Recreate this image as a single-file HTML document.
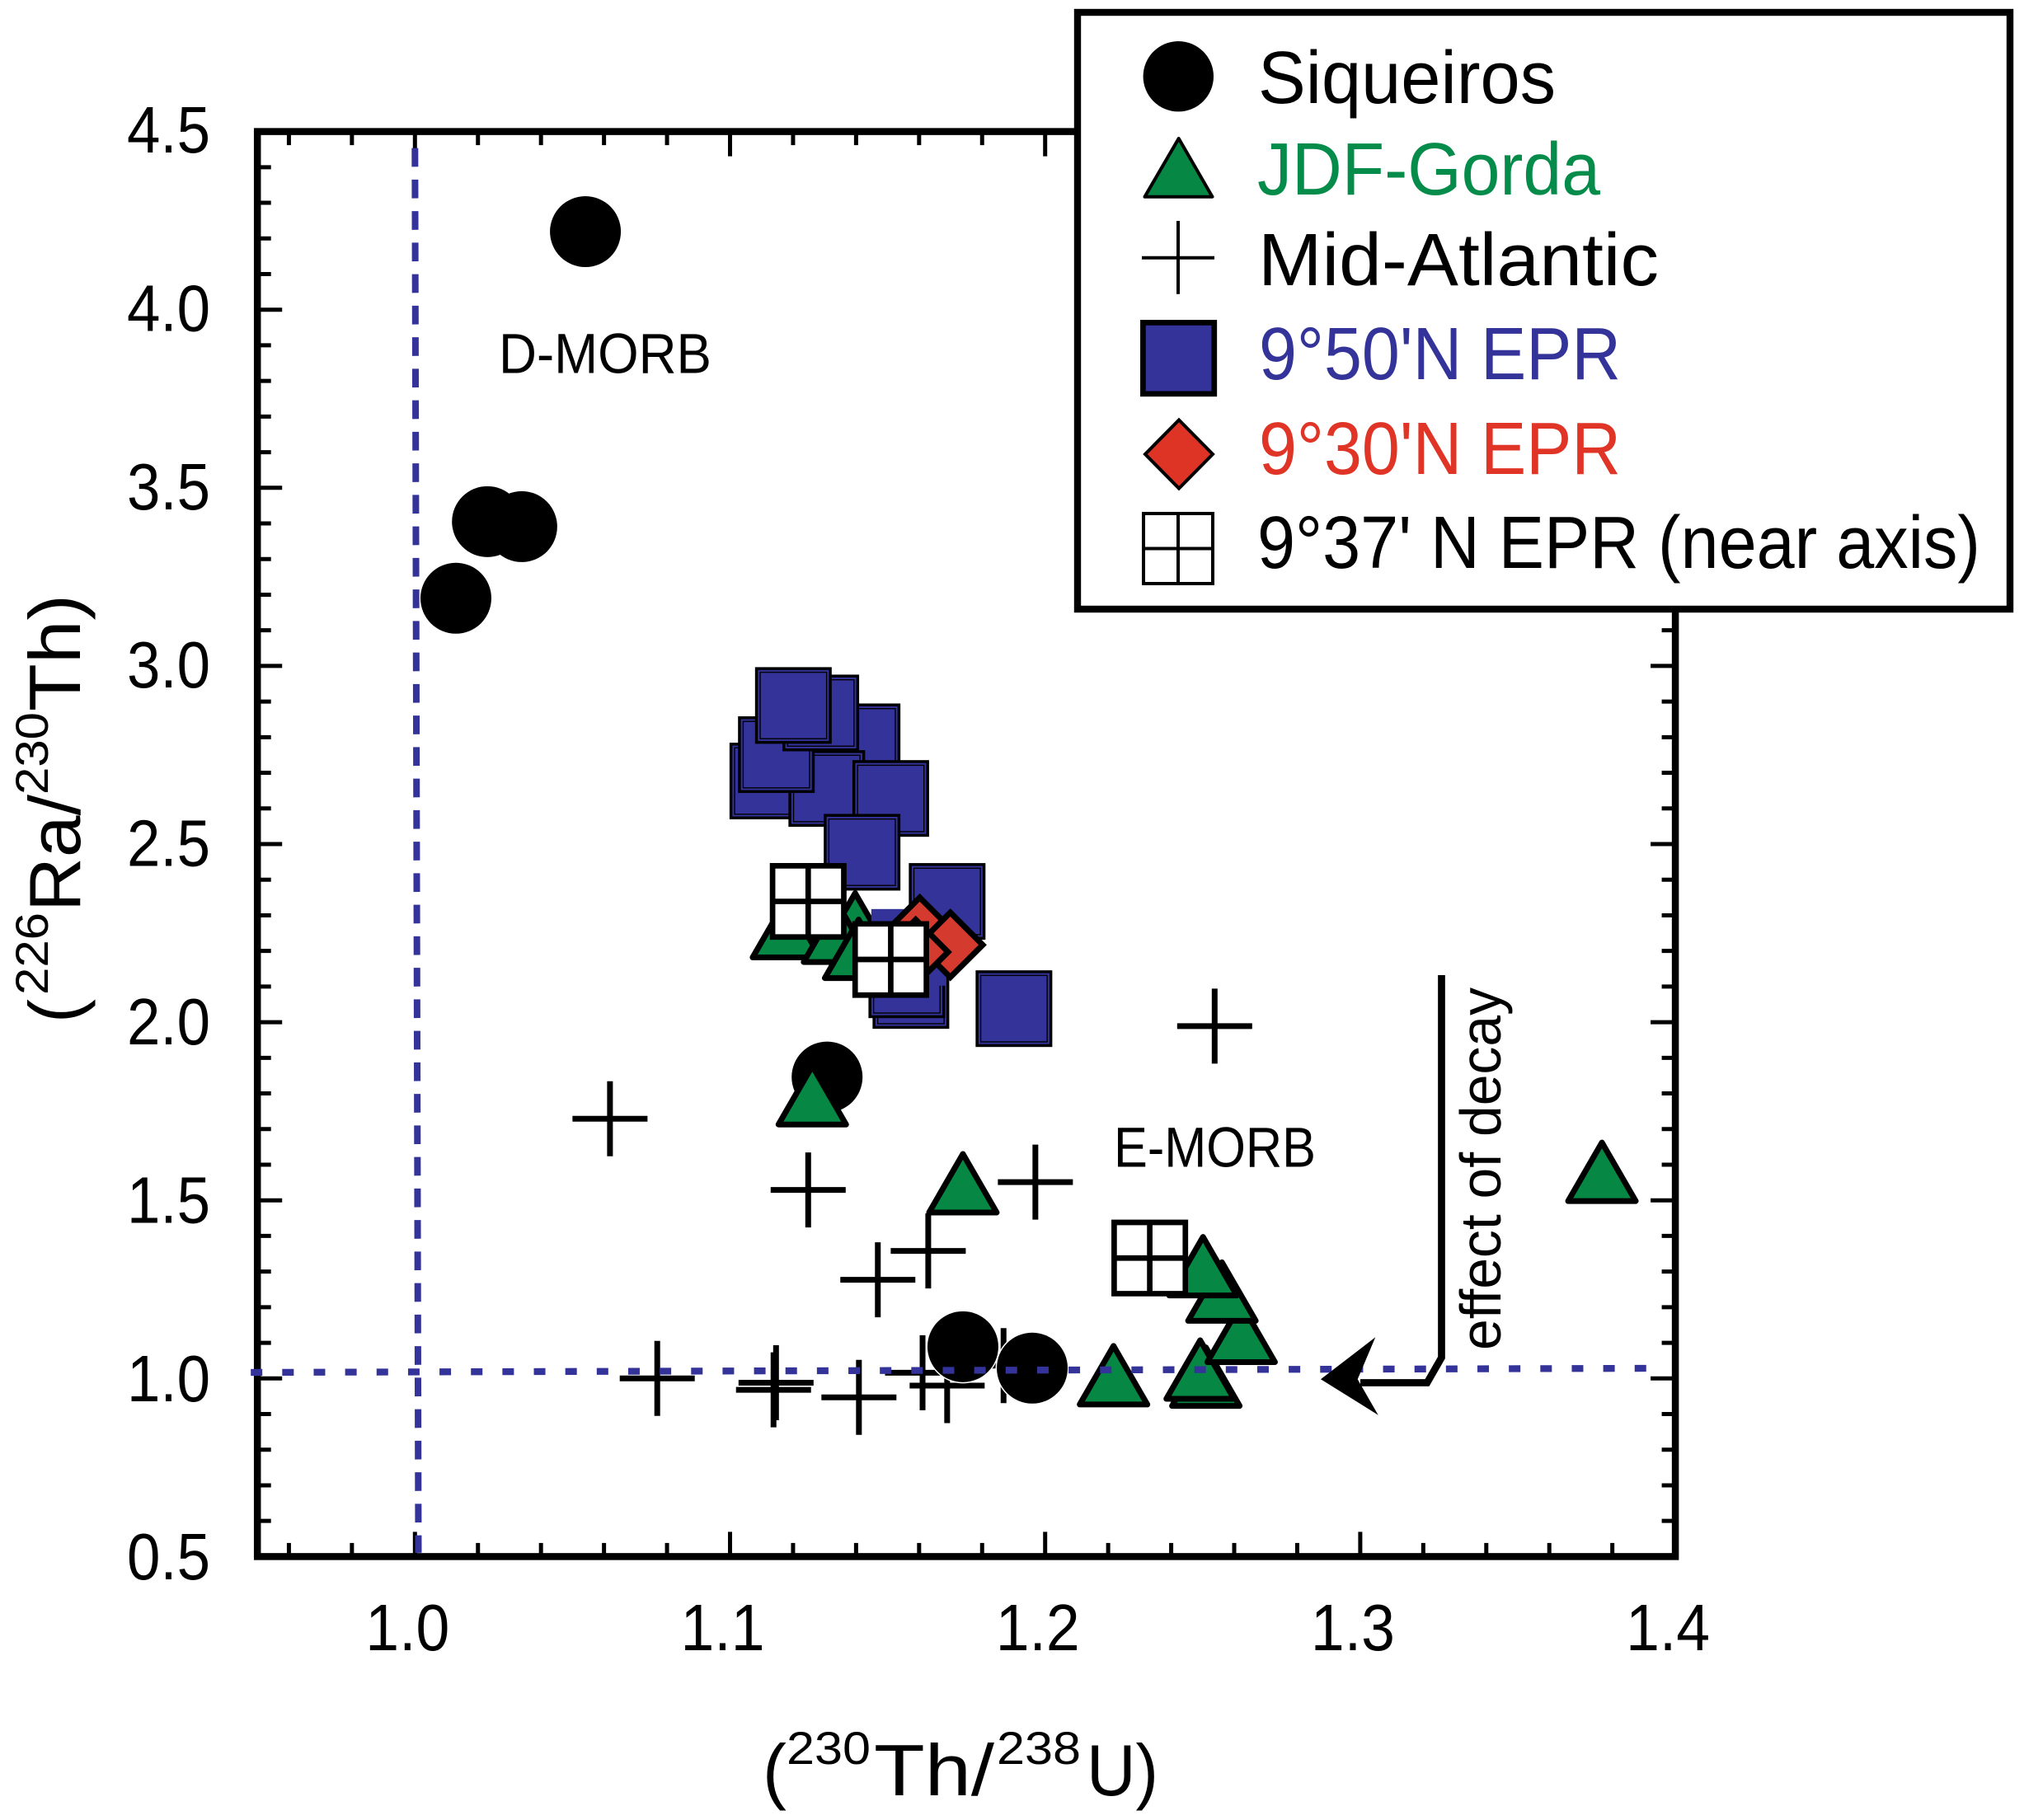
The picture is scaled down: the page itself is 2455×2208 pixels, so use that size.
<!DOCTYPE html>
<html lang="en">
<head>
<meta charset="utf-8">
<title>226Ra/230Th versus 230Th/238U</title>
<style>
html,body{margin:0;padding:0;background:#fff}
svg{display:block}
text{font-family:"Liberation Sans",sans-serif;fill:#000}
</style>
</head>
<body>
<svg id="chart" xmlns="http://www.w3.org/2000/svg" width="2455" height="2208" viewBox="0 0 2455 2208">
  <rect x="0" y="0" width="2455" height="2208" fill="#fff"/>
  <g id="axes"></g>
  <g id="marks"></g>

  <g>
    <path d="M1748.5 1183 L1748.5 1647 L1731 1677.5 L1650 1677.5" fill="none" stroke="#000" stroke-width="8.7"/>
    <path d="M1602 1673.3 L1668.3 1622.3 L1646.7 1673.3 L1671.7 1716.7 Z" fill="#000"/>
    <text transform="translate(1820 1638) rotate(-90)" font-size="70" textLength="440" lengthAdjust="spacingAndGlyphs">effect of decay</text>
  </g>

  <text x="605" y="452.7" font-size="69" textLength="258" lengthAdjust="spacingAndGlyphs">D-MORB</text>
  <text x="1351" y="1415.7" font-size="69" textLength="245" lengthAdjust="spacingAndGlyphs">E-MORB</text>

  <g>
    <text x="925" y="2178" font-size="88" textLength="29" lengthAdjust="spacingAndGlyphs">(</text>
    <text x="954" y="2140" font-size="56" textLength="102" lengthAdjust="spacingAndGlyphs">230</text>
    <text x="1060" y="2178" font-size="88" textLength="146" lengthAdjust="spacingAndGlyphs">Th/</text>
    <text x="1209" y="2140" font-size="56" textLength="102" lengthAdjust="spacingAndGlyphs">238</text>
    <text x="1318" y="2178" font-size="88" textLength="87" lengthAdjust="spacingAndGlyphs">U)</text>
  </g>

  <g>
    <text transform="translate(97 1241) rotate(-90)" font-size="88" textLength="29" lengthAdjust="spacingAndGlyphs">(</text>
    <text transform="translate(58 1207) rotate(-90)" font-size="56" textLength="100" lengthAdjust="spacingAndGlyphs">226</text>
    <text transform="translate(97 1106) rotate(-90)" font-size="88" textLength="142" lengthAdjust="spacingAndGlyphs">Ra/</text>
    <text transform="translate(58 964) rotate(-90)" font-size="56" textLength="100" lengthAdjust="spacingAndGlyphs">230</text>
    <text transform="translate(97 863) rotate(-90)" font-size="88" textLength="142" lengthAdjust="spacingAndGlyphs">Th)</text>
  </g>

  <g>
    <rect x="1307" y="15" width="1131" height="724" fill="#fff" stroke="#000" stroke-width="8.4"/>
    <g>
      <circle cx="1429.3" cy="92.7" r="42.7" fill="#000"/>
      <text x="1526" y="125" font-size="90" textLength="361" lengthAdjust="spacingAndGlyphs">Siqueiros</text>
    </g>
    <g>
      <path d="M1429.7 168 L1470.5 238.7 L1388.5 238.7 Z" fill="#068844" stroke="#000" stroke-width="4" stroke-linejoin="round"/>
      <text x="1525" y="236" font-size="90" textLength="416" lengthAdjust="spacingAndGlyphs" style="fill:#068c4a">JDF-Gorda</text>
    </g>
    <g>
      <path d="M1385 312.7 H1473 M1429 268 V356.7" fill="none" stroke="#000" stroke-width="4"/>
      <text x="1526" y="346" font-size="90" textLength="486" lengthAdjust="spacingAndGlyphs">Mid-Atlantic</text>
    </g>
    <g>
      <rect x="1386.4" y="391.4" width="86.4" height="86.4" fill="#343399" stroke="#000" stroke-width="6.7"/>
      <text x="1527" y="460" font-size="90" textLength="439" lengthAdjust="spacingAndGlyphs" style="fill:#343399">9°50'N EPR</text>
    </g>
    <g>
      <path d="M1430 509.5 L1471 551 L1430 592.5 L1389 551 Z" fill="#de3425" stroke="#000" stroke-width="4"/>
      <text x="1527" y="575" font-size="90" textLength="439" lengthAdjust="spacingAndGlyphs" style="fill:#e03426">9°30'N EPR</text>
    </g>
    <g>
      <rect x="1387" y="623" width="84" height="85" fill="#fff" stroke="#000" stroke-width="4"/>
      <path d="M1429 623 V708 M1387 665.5 H1471" fill="none" stroke="#000" stroke-width="4"/>
      <text x="1525" y="689" font-size="90" textLength="877" lengthAdjust="spacingAndGlyphs">9°37' N EPR (near axis)</text>
    </g>
  </g>
</svg>

<script>
// ---- axis tick labels ----
const xTickLabels = ['1.0', '1.1', '1.2', '1.3', '1.4'];
const yTickLabels = ['0.5', '1.0', '1.5', '2.0', '2.5', '3.0', '3.5', '4.0', '4.5'];

// ---- Siqueiros ----
const siqueirosX = [1.0541, 1.0230, 1.0339, 1.0130, 1.1308, 1.1739, 1.1959];
const siqueirosY = [4.219, 3.405, 3.391, 3.190, 1.846, 1.089, 1.029];

// ---- JDF-Gorda ----
const jdfGordaX = [1.1397, 1.1179, 1.1341, 1.1408, 1.1261, 1.1739, 1.3767, 1.2217, 1.2510, 1.2492, 1.2622, 1.2561, 1.2501];
const jdfGordaY = [2.258, 2.242, 2.229, 2.184, 1.773, 1.526, 1.558, 0.987, 0.983, 1.003, 1.106, 1.222, 1.293];

// ---- Mid-Atlantic ----
const midAtlanticX = [1.0619, 1.1248, 1.1469, 1.1629, 1.1969, 1.2538, 1.0769, 1.1146, 1.1138, 1.1409, 1.1611, 1.1689, 1.1868];
const midAtlanticY = [1.729, 1.529, 1.277, 1.358, 1.551, 1.989, 1.000, 0.988, 0.968, 0.947, 1.016, 0.980, 1.036];

// ---- 9 50'N EPR ----
const epr950X = [1.1419, 1.1120, 1.1307, 1.1510, 1.1147, 1.1288, 1.1201, 1.1419, 1.1689, 1.1574, 1.1561, 1.1901];
const epr950Y = [2.787, 2.677, 2.656, 2.628, 2.751, 2.868, 2.889, 2.477, 2.339, 2.089, 2.119, 2.038];
const epr950PartlyHiddenX = [1.1570];
const epr950PartlyHiddenY = [2.210];

// ---- 9 30'N EPR ----
const epr930X = [1.1602, 1.1699, 1.1589];
const epr930Y = [2.259, 2.217, 2.197];

// ---- 9 37'N EPR (near axis) ----
const epr937X = [1.1248, 1.1510, 1.2332];
const epr937Y = [2.339, 2.176, 1.338];

// ---- reference lines at secular equilibrium (hand-drawn, slightly tilted) ----
const horizontalRefX = [0.9479, 1.3932];
const horizontalRefY = [1.0169, 1.0285];
const verticalRefX = [1.0000, 1.0011];
const verticalRefY = [4.4537, 0.5106];

// ---- axis functions ----
function xScale(v) { return 503.3 + (v - 1) * 3822; }
function yScale(v) { return 1672.3 - (v - 1) * 432.2; }
function yLabelBaseline(v) { return 185 + (4.5 - v) * 432.8; }

const SVG_NS = 'http://www.w3.org/2000/svg';
function add(parent, tag, attrs) {
  const el = document.createElementNS(SVG_NS, tag);
  for (const k in attrs) el.setAttribute(k, attrs[k]);
  parent.appendChild(el);
  return el;
}

const axes = document.getElementById('axes');
const marks = document.getElementById('marks');
const X0 = xScale(0.95), X1 = xScale(1.4), Y0 = yScale(0.5), Y1 = yScale(4.5);

// ---- ticks ----
for (let i = 0; i <= 22; i++) {
  const v = 0.96 + i * 0.02;
  if (v > 1.395) break;
  const isMajor = Math.abs(v * 10 - Math.round(v * 10)) < 0.001;
  const len = isMajor ? 30 : 16.5;
  const px = xScale(v);
  const tickB = add(axes, 'line', { x1: px, x2: px, y1: Y0, y2: Y0 - len, stroke: '#000', 'stroke-width': 5 });
  
  
  const tickT = add(axes, 'line', { x1: px, x2: px, y1: Y1, y2: Y1 + len, stroke: '#000', 'stroke-width': 5 });
  
  
}
for (let i = 1; i < 40; i++) {
  const v = 0.5 + i * 0.1;
  const isMajor = i % 5 === 0;
  const len = isMajor ? 30 : 16.5;
  const py = yScale(v);
  const tickL = add(axes, 'line', { x1: X0, x2: X0 + len, y1: py, y2: py, stroke: '#000', 'stroke-width': 5 });
  
  
  const tickR = add(axes, 'line', { x1: X1, x2: X1 - len, y1: py, y2: py, stroke: '#000', 'stroke-width': 5 });
  
  
}

// ---- frame ----
const frame = add(axes, 'rect', { x: X0, y: Y1, width: X1 - X0, height: Y0 - Y1, fill: 'none', stroke: '#000', 'stroke-width': 8.5 });



// ---- tick labels ----
xTickLabels.forEach(function (label) {
  const t = add(axes, 'text', { x: xScale(parseFloat(label)) - 60, y: 2002, 'font-size': 80, textLength: 102, lengthAdjust: 'spacingAndGlyphs' });
  t.textContent = label;
  
  
});
yTickLabels.forEach(function (label) {
  const t = add(axes, 'text', { x: 154, y: yLabelBaseline(parseFloat(label)), 'font-size': 80, textLength: 101, lengthAdjust: 'spacingAndGlyphs' });
  t.textContent = label;
  
  
});

// ---- Mid-Atlantic crosses ----
midAtlanticX.forEach(function (vx, i) {
  const x = xScale(vx), y = yScale(midAtlanticY[i]);
  const m = add(marks, 'path', { d: 'M' + (x - 45.5) + ' ' + y + ' H' + (x + 45.5) + ' M' + x + ' ' + (y - 45.5) + ' V' + (y + 45.5), fill: 'none', stroke: '#000', 'stroke-width': 7 });
  
  
});

// ---- Siqueiros circles: white halo pass, then solid pass so touching circles merge ----
siqueirosX.forEach(function (vx, i) {
  const h = add(marks, 'circle', { cx: xScale(vx), cy: yScale(siqueirosY[i]), r: 44.5, fill: '#fff' });
  
  
});
siqueirosX.forEach(function (vx, i) {
  const c = add(marks, 'circle', { cx: xScale(vx), cy: yScale(siqueirosY[i]), r: 43, fill: '#000' });
  
  
});

// ---- 9 50'N EPR squares ----
epr950X.forEach(function (vx, i) {
  const x = xScale(vx), y = yScale(epr950Y[i]);
  const g = add(marks, 'g', {});
  
  
  const outer = add(g, 'rect', { x: x - 44.75, y: y - 44.75, width: 89.5, height: 89.5, fill: '#343399', stroke: '#000', 'stroke-width': 3.5 });
  
  
  const inner = add(g, 'rect', { x: x - 40.3, y: y - 40.3, width: 80.6, height: 80.6, fill: 'none', stroke: '#000', 'stroke-width': 1.4 });
  
  
});

// ---- JDF-Gorda triangles ----
jdfGordaX.forEach(function (vx, i) {
  const x = xScale(vx), y = yScale(jdfGordaY[i]);
  const m = add(marks, 'path', { d: 'M' + x + ' ' + (y - 45) + ' L' + (x + 41) + ' ' + (y + 26) + ' L' + (x - 41) + ' ' + (y + 26) + ' Z', fill: '#068844', stroke: '#000', 'stroke-width': 7, 'stroke-linejoin': 'round' });
  
  
});

// ---- 9 50'N EPR square without outline, lying over a triangle ----
epr950PartlyHiddenX.forEach(function (vx, i) {
  const x = xScale(vx), y = yScale(epr950PartlyHiddenY[i]);
  const r = add(marks, 'rect', { x: x - 46.5, y: y - 46.5, width: 90, height: 93, fill: '#343399' });
  
  
});

// ---- 9 30'N EPR diamonds ----
epr930X.forEach(function (vx, i) {
  const x = xScale(vx), y = yScale(epr930Y[i]);
  const m = add(marks, 'path', { d: 'M' + x + ' ' + (y - 39.3) + ' L' + (x + 39.3) + ' ' + y + ' L' + x + ' ' + (y + 39.3) + ' L' + (x - 39.3) + ' ' + y + ' Z', fill: '#d53a2e', stroke: '#000', 'stroke-width': 7 });
  
  
});

// ---- 9 37'N EPR grid squares ----
epr937X.forEach(function (vx, i) {
  const x = xScale(vx), y = yScale(epr937Y[i]);
  const m = add(marks, 'path', { d: 'M' + (x - 43.2) + ' ' + (y - 43.2) + ' H' + (x + 43.2) + ' V' + (y + 43.2) + ' H' + (x - 43.2) + ' Z M' + x + ' ' + (y - 43.2) + ' V' + (y + 43.2) + ' M' + (x - 43.2) + ' ' + y + ' H' + (x + 43.2), fill: '#fff', stroke: '#000', 'stroke-width': 6.7 });
  
  
});

// ---- dashed reference lines ----
const hLine = add(marks, 'line', { x1: xScale(horizontalRefX[0]), y1: yScale(horizontalRefY[0]), x2: xScale(horizontalRefX[1]), y2: yScale(horizontalRefY[1]), stroke: '#343399', 'stroke-width': 8.3, 'stroke-dasharray': '14 24.15' });


const vLine = add(marks, 'line', { x1: xScale(verticalRefX[0]), y1: yScale(verticalRefY[0]), x2: xScale(verticalRefX[1]), y2: yScale(verticalRefY[1]), stroke: '#343399', 'stroke-width': 8, 'stroke-dasharray': '22.7 15.55' });


</script>
</body>
</html>
